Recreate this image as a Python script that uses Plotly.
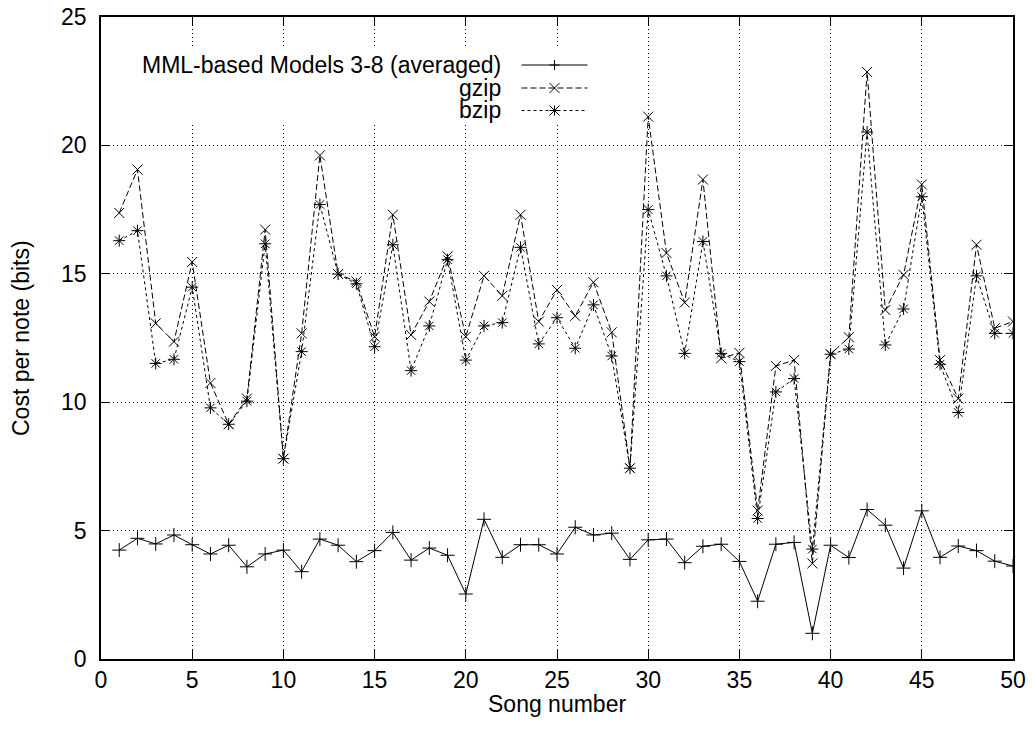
import plotly.graph_objects as go

songs = list(range(1, 51))
mml = [4.24, 4.70, 4.48, 4.83, 4.45, 4.09, 4.43, 3.59, 4.09, 4.24,
       3.40, 4.67, 4.43, 3.79, 4.22, 4.93, 3.85, 4.32, 4.04, 2.53,
       5.44, 3.96, 4.45, 4.45, 4.09, 5.13, 4.83, 4.90, 3.88, 4.64,
       4.67, 3.75, 4.39, 4.47, 3.80, 2.25, 4.47, 4.54, 1.00, 4.43,
       3.95, 5.82, 5.21, 3.54, 5.77, 3.96, 4.40, 4.22, 3.81, 3.62]
gzip = [17.37, 19.06, 13.07, 12.36, 15.46, 10.75, 9.14, 10.14, 16.72, 7.80,
        12.68, 19.61, 14.99, 14.70, 12.55, 17.30, 12.62, 13.92, 15.68, 12.55,
        14.92, 14.14, 17.30, 13.14, 14.37, 13.36, 14.67, 12.72, 7.43, 21.12,
        15.81, 13.88, 18.67, 11.71, 11.92, 5.78, 11.41, 11.64, 3.72, 11.87,
        12.53, 22.86, 13.59, 14.96, 18.48, 11.64, 10.14, 16.13, 12.88, 13.14]
bzip = [16.29, 16.68, 11.51, 11.67, 14.48, 9.78, 9.14, 10.04, 16.17, 7.80,
        11.97, 17.70, 14.99, 14.61, 12.16, 16.13, 11.23, 12.97, 15.55, 11.64,
        12.97, 13.10, 16.03, 12.27, 13.29, 12.10, 13.79, 11.80, 7.43, 17.50,
        14.92, 11.90, 16.26, 11.90, 11.58, 5.47, 10.40, 10.92, 4.28, 11.87,
        12.07, 20.52, 12.23, 13.63, 18.00, 11.48, 9.60, 14.92, 12.68, 12.68]

names = ["MML-based Models 3-8 (averaged)", "gzip", "bzip"]
x_ticks = [0, 5, 10, 15, 20, 25, 30, 35, 40, 45, 50]
y_ticks = [0, 5, 10, 15, 20, 25]
x_title = "Song number"
y_title = "Cost per note (bits)"

FONT = "Liberation Sans, Arial, Helvetica, sans-serif"
FS = 23

styles = [
    dict(dash="solid", symbol="cross-thin-open"),
    dict(dash="6px,3px", symbol="x-thin-open"),
    dict(dash="3px,3px", symbol="asterisk-open"),
]

fig = go.Figure()
for name, ys, st in zip(names, [mml, gzip, bzip], styles):
    fig.add_trace(go.Scatter(
        x=songs, y=ys, mode="lines+markers", name=name, showlegend=False,
        line=dict(color="black", width=1, dash=st["dash"]),
        marker=dict(symbol=st["symbol"], size=10, color="black",
                    line=dict(color="black", width=1)),
    ))

# blank key area hiding the grid
fig.add_shape(type="rect", xref="x", yref="y", x0=1.57, x1=27.3, y0=20.9, y1=23.75,
              fillcolor="white", line=dict(width=0), layer="between")

# plot area geometry in page pixels (reference)
PL, PT, PW, PH = 101.0, 17.0, 912.0, 642.0

def px(xp):
    return (xp - PL) / PW

def py(yp):
    return 1 - (yp - PT) / PH

# custom key: text right-aligned, sample to the right
text_right = px(503)
sample_cx = px(554.5)
row_y = [py(65), py(88), py(110.5)]
paths = {
    "cross-thin-open": "M-5,0L5,0M0,-5L0,5",
    "x-thin-open": "M-5,-5L5,5M-5,5L5,-5",
    "asterisk-open": "M-5,0L5,0M0,-5L0,5M-5,-5L5,5M-5,5L5,-5",
}
for name, st, yy in zip(names, styles, row_y):
    fig.add_annotation(x=text_right, y=yy, xref="paper", yref="paper", text=name,
                       showarrow=False, xanchor="right", yanchor="middle",
                       font=dict(family=FONT, size=FS, color="black"))
    fig.add_shape(type="line", xref="paper", yref="paper", xsizemode="pixel", ysizemode="pixel",
                  xanchor=sample_cx, yanchor=yy, x0=-33, x1=33, y0=0, y1=0,
                  line=dict(color="black", width=1, dash=st["dash"]), layer="above")
    fig.add_shape(type="path", xref="paper", yref="paper", xsizemode="pixel", ysizemode="pixel",
                  xanchor=sample_cx, yanchor=yy, path=paths[st["symbol"]],
                  line=dict(color="black", width=1), layer="above")

# axis titles as annotations for exact placement
fig.add_annotation(x=0.5, y=py(704), xref="paper", yref="paper", text=x_title,
                   showarrow=False, xanchor="center", yanchor="middle",
                   font=dict(family=FONT, size=FS, color="black"))
fig.add_annotation(x=px(21), y=py(338), xref="paper", yref="paper", text=y_title,
                   showarrow=False, xanchor="center", yanchor="middle", textangle=-90,
                   font=dict(family=FONT, size=FS, color="black"))

axis_common = dict(
    showline=True, linecolor="black", linewidth=1.5, mirror="ticks",
    ticks="inside", ticklen=9, tickwidth=1.2, tickcolor="black",
    showgrid=True, gridcolor="black", gridwidth=1, griddash="1px,3px",
    zeroline=False, ticklabeloverflow="allow",
    tickfont=dict(family=FONT, size=FS, color="black"),
)
fig.update_xaxes(range=[0, 50], tickvals=x_ticks, **axis_common)
fig.update_yaxes(range=[0, 25], tickvals=y_ticks, ticklabelstandoff=8, **axis_common)

fig.update_layout(
    width=1032, height=731,
    margin=dict(l=101, r=19, t=17, b=72, autoexpand=False),
    paper_bgcolor="white", plot_bgcolor="white",
    font=dict(family=FONT, size=FS, color="black"),
)

# remove the default 8px page margin so the figure fills the window exactly
fig.write_html("out.html", config={"displayModeBar": False},
               post_script="document.body.style.margin='0';")
